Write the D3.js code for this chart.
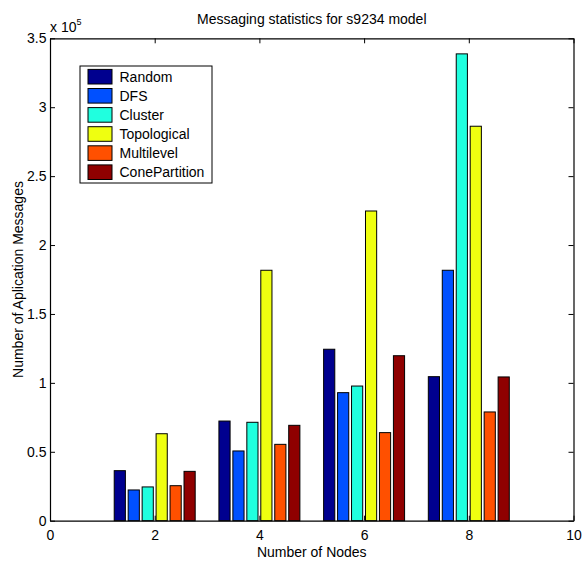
<!DOCTYPE html>
<html>
<head>
<meta charset="utf-8">
<script src="https://cdn.jsdelivr.net/npm/d3@7"></script>
<style>
  body { margin: 0; background: #fff; }
  svg text { font-family: Arial, "Liberation Sans", Helvetica, sans-serif; fill: #000; }
  .axis path, .axis line { stroke: #000; }
</style>
</head>
<body>
<svg width="582" height="561"></svg>
<script>
// node counts on the x axis
var nodes = [2, 4, 6, 8];

// partitioning methods (one bar each per group)
var methods = ["Random", "DFS", "Cluster", "Topological", "Multilevel", "ConePartition"];
var colors = ["#00008f", "#0050ff", "#20ffdf", "#efff10", "#ff5000", "#8f0000"];

// messages
var random        = [36300, 72300, 124400, 104500];
var dfs           = [22300, 50600, 92900, 181700];
var cluster       = [24500, 71400, 97700, 338700];
var topological   = [63100, 181700, 224700, 286200];
var multilevel    = [25400, 55400, 63900, 78900];
var conePartition = [35800, 69200, 119700, 104300];

var series = [random, dfs, cluster, topological, multilevel, conePartition];

var xTicks = [0, 2, 4, 6, 8, 10];
var yTicks = [0, 0.5, 1, 1.5, 2, 2.5, 3, 3.5];

var svg = d3.select("svg"),
    plotLeft = 50, plotRight = 573.5, plotTop = 38.3, plotBottom = 520.7;

var x = d3.scaleLinear().domain([0, 10]).range([plotLeft, plotRight]);
var y = d3.scaleLinear().domain([0, 3.5e5]).range([plotBottom, plotTop]);

// MATLAB style grouping: group width 0.8 of spacing
var groupWidth = 0.8 * 2,
    step = groupWidth / methods.length,
    barW = 0.8 * step;

var bars = svg.append("g");
series.forEach(function(vals, j) {
  bars.selectAll(null)
    .data(vals)
    .enter().append("rect")
      .attr("x", function(d, i) { return x(nodes[i] - groupWidth / 2 + j * step + (step - barW) / 2); })
      .attr("width", x(barW) - x(0))
      .attr("y", function(d) { return y(d); })
      .attr("height", function(d) { return y(0) - y(d); })
      .attr("fill", colors[j])
      .attr("stroke", "#000")
      .attr("stroke-width", 1);
});

// axes, ticks inward on all four sides
var fmt = function(d) { return d3.format("")(d); };
var yScaled = d3.scaleLinear().domain([0, 3.5]).range([plotBottom, plotTop]);

svg.append("g")
    .attr("class", "axis")
    .attr("transform", "translate(0," + plotBottom + ")")
    .call(d3.axisBottom(x).tickValues(xTicks).tickSizeInner(-5).tickSizeOuter(0).tickPadding(9.5).tickFormat(fmt))
    .call(function(g) { g.selectAll("text").style("font-size", "14px"); });

svg.append("g")
    .attr("class", "axis")
    .attr("transform", "translate(0," + plotTop + ")")
    .call(d3.axisTop(x).tickValues(xTicks).tickSizeInner(-5).tickSizeOuter(0).tickFormat(""));

svg.append("g")
    .attr("class", "axis")
    .attr("transform", "translate(" + plotLeft + ",0)")
    .call(d3.axisLeft(yScaled).tickValues(yTicks).tickSizeInner(-5).tickSizeOuter(0).tickPadding(3.5).tickFormat(fmt))
    .call(function(g) { g.selectAll("text").style("font-size", "14px"); });

svg.append("g")
    .attr("class", "axis")
    .attr("transform", "translate(" + plotRight + ",0)")
    .call(d3.axisRight(yScaled).tickValues(yTicks).tickSizeInner(-5).tickSizeOuter(0).tickFormat(""));

svg.selectAll(".axis path").attr("stroke-width", 1.2);
svg.selectAll(".axis line").attr("stroke-width", 1);

// exponent label
var expo = svg.append("text")
    .attr("x", 50).attr("y", 31.5)
    .style("font-size", "14px")
    .text("x 10");
expo.append("tspan")
    .attr("dy", -7)
    .style("font-size", "9px")
    .text("5");

// title and axis labels
svg.append("text")
    .attr("x", (plotLeft + plotRight) / 2).attr("y", 24)
    .attr("text-anchor", "middle")
    .style("font-size", "14px")
    .text("Messaging statistics for s9234 model");

svg.append("text")
    .attr("x", (plotLeft + plotRight) / 2).attr("y", 557)
    .attr("text-anchor", "middle")
    .style("font-size", "14px")
    .text("Number of Nodes");

svg.append("text")
    .attr("transform", "translate(23," + ((plotTop + plotBottom) / 2) + ") rotate(-90)")
    .attr("text-anchor", "middle")
    .style("font-size", "14px")
    .text("Number of Aplication Messages");

// legend
var legend = svg.append("g").attr("transform", "translate(80,66)");
legend.append("rect")
    .attr("width", 132).attr("height", 117)
    .attr("fill", "#fff").attr("stroke", "#000").attr("stroke-width", 1);

var item = legend.selectAll(".item")
    .data(methods)
    .enter().append("g")
      .attr("transform", function(d, i) { return "translate(0," + (10.7 + i * 19.1) + ")"; });

item.append("rect")
    .attr("x", 8).attr("y", -7.3)
    .attr("width", 24).attr("height", 14.6)
    .attr("fill", function(d, i) { return colors[i]; })
    .attr("stroke", "#000").attr("stroke-width", 1);

item.append("text")
    .attr("x", 39.5).attr("y", 5)
    .style("font-size", "14px")
    .text(function(d) { return d; });
</script>
</body>
</html>
